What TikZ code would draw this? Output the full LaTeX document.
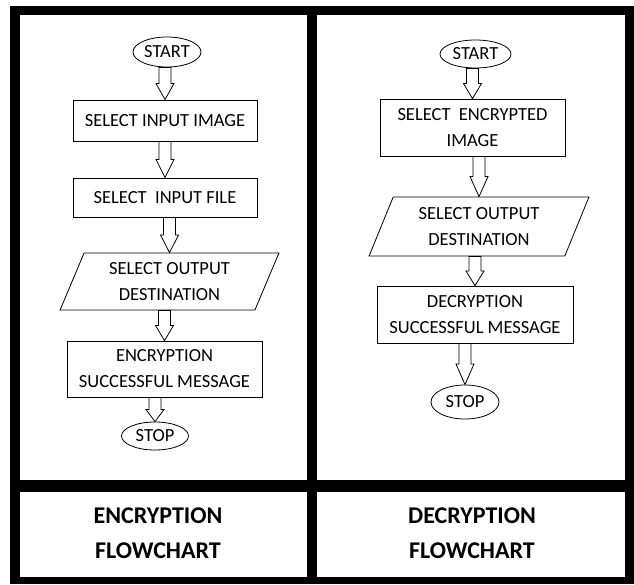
\documentclass[tikz,border=0pt]{standalone}
\usepackage{fontspec}
\setmainfont{Carlito}
\usepackage{tikz}
\usetikzlibrary{shapes.geometric,calc}

% hollow block arrow from the bottom of #1 down to the top of #2
\newcommand{\flowarrow}[2]{%
  \coordinate (fa) at (#1.south -| #2.north);
  \coordinate (fm) at ($(fa)!0.5!(#2.north)$);
  \draw[blockarrow] ($(fa)+(-6pt,0)$) -- ($(fa)+(6pt,0)$) -- ($(fm)+(6pt,0)$) -- ($(fm)+(9pt,0)$)
    -- (#2.north) -- ($(fm)+(-9pt,0)$) -- ($(fm)+(-6pt,0)$) -- cycle;}

\begin{document}
\begin{tikzpicture}[
			x=1pt, y=-1pt,
			font=\fontsize{18.5}{26}\selectfont,
			box/.style={draw, line width=0.8pt, inner sep=0pt, align=center},
			term/.style={draw, ellipse, line width=0.8pt, inner sep=0pt},
			io/.style={draw, trapezium, trapezium left angle=66, trapezium right angle=114, trapezium stretches=true, line width=0.8pt, inner sep=0pt, align=center},
			caption/.style={align=center, font=\fontsize{24}{35}\selectfont\bfseries},
			blockarrow/.style={draw, fill=white, line width=0.8pt, line join=miter}
			]
			\useasboundingbox (0,0) rectangle (634,584);
			% frame and panels
			\fill[black] (10,6) rectangle (634,584);
			\fill[white] (20,15) rectangle (307,480);
			\fill[white] (317,15) rectangle (625,480);
			\fill[white] (20,492) rectangle (307,577);
			\fill[white] (317,492) rectangle (625,577);
			% encryption
			\node[term, minimum width=68pt, minimum height=30pt] (estart) at (167,52) {START};
			\node[box, minimum width=184pt, minimum height=41pt] (eimg) at (165,120.5) {SELECT INPUT IMAGE};
			\node[box, minimum width=184pt, minimum height=39pt] (efile) at (165,197.5) {SELECT\ \ INPUT FILE};
			\node[io, minimum width=219pt, minimum height=57pt] (eout) at (169.5,281.5) {SELECT OUTPUT\\DESTINATION};
			\node[box, minimum width=195pt, minimum height=56pt] (emsg) at (164.5,369) {ENCRYPTION\\SUCCESSFUL MESSAGE};
			\node[term, minimum width=67pt, minimum height=28pt] (estop) at (155,436) {STOP};
			% decryption
			\node[term, minimum width=71pt, minimum height=28pt] (dstart) at (475.5,54) {START};
			\node[box, minimum width=185pt, minimum height=57pt] (dimg) at (472.5,127.5) {SELECT\ \ ENCRYPTED\\IMAGE};
			\node[io, minimum width=220pt, minimum height=59pt] (dout) at (479,226.5) {SELECT OUTPUT\\DESTINATION};
			\node[box, minimum width=196pt, minimum height=57pt] (dmsg) at (475,314.5) {DECRYPTION\\SUCCESSFUL MESSAGE};
			\node[term, minimum width=68pt, minimum height=34pt] (dstop) at (465,402) {STOP};
			% captions
			\node[caption] (ecap) at (158,533) {ENCRYPTION\\FLOWCHART};
			\node[caption] (dcap) at (472,533) {DECRYPTION\\FLOWCHART};
			% arrows
			\flowarrow{estart}{eimg}
			\flowarrow{eimg}{efile}
			\flowarrow{efile}{eout}
			\flowarrow{eout}{emsg}
			\flowarrow{emsg}{estop}
			\flowarrow{dstart}{dimg}
			\flowarrow{dimg}{dout}
			\flowarrow{dout}{dmsg}
			\flowarrow{dmsg}{dstop}
		\end{tikzpicture}
\end{document}
